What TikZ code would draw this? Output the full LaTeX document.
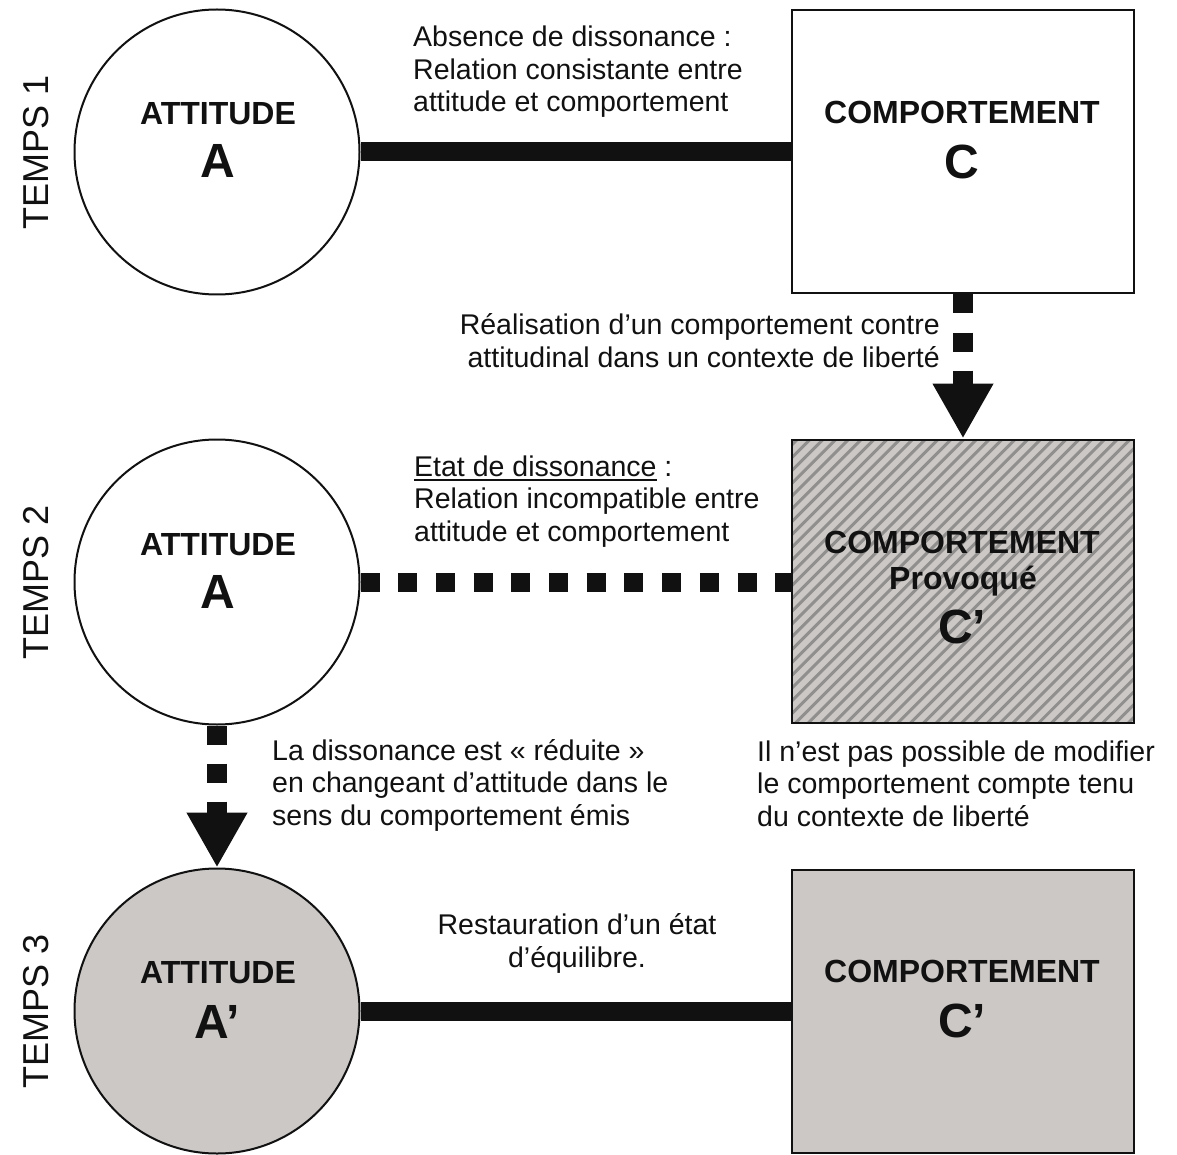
\documentclass[tikz,border=0pt]{standalone}
\usepackage{fontspec}
\setmainfont{Liberation Sans}
\usetikzlibrary{arrows.meta}
\definecolor{ink}{RGB}{17,17,17}
\definecolor{shadegrey}{RGB}{203,200,198}
\definecolor{hatchgrey}{RGB}{145,143,142}
\newcommand\myul[1]{\setbox0\hbox{#1}\rlap{\rule[-4.5pt]{\wd0}{1.8pt}}\box0\relax}
\begin{document}
\begin{tikzpicture}[x=1pt,y=-1pt,
 shapeborder/.style={draw=ink, line width=2pt},
 att/.style={shapeborder, circle, minimum size=285pt, inner sep=0pt},
 comp/.style={shapeborder, rectangle, minimum width=342pt, minimum height=283pt, inner sep=0pt},
 bigword/.style={font=\fontsize{32}{36}\selectfont\bfseries, anchor=base, inner sep=0pt, text=ink},
 bigletter/.style={font=\fontsize{48}{56}\selectfont\bfseries, anchor=base, inner sep=0pt, text=ink},
 note/.style={font=\fontsize{28.5}{32.5}\selectfont, inner sep=0pt, text=ink},
 temps/.style={font=\fontsize{36}{40}\selectfont, rotate=90, inner sep=0pt, text=ink},
 solidlink/.style={draw=ink, line width=19pt},
 dotlink/.style={draw=ink, line width=19pt, dash pattern=on 19pt off 18.7pt},
 dotarrow/.style={draw=ink, line width=20pt, dash pattern=on 19pt off 19pt, -{Triangle[length=55pt,width=57pt]}},
]
\path[fill=white, use as bounding box] (0,0) rectangle (1177,1155);

% shapes
\node[att] (a1) at (217,152) {};
\node[att] (a2) at (217,582) {};
\node[att, fill=shadegrey] (a3) at (217,1011) {};
\node[comp] (c1) at (963,152) {};
\node[comp, fill=shadegrey, path picture={
  \foreach \k in {0,...,52} \draw[hatchgrey, line width=3pt] (-480+\k*12.8,160) -- ++(420,-420);
}] (c2) at (963,581) {};
\node[comp, fill=shadegrey] (c3) at (963,1011) {};

% labels inside shapes
\node[bigword] (a1w) at (218,125) {ATTITUDE};
\node[bigletter] (a1l) at (218,178) {A};
\node[bigword] (a2w) at (218,555) {ATTITUDE};
\node[bigletter] (a2l) at (218,608) {A};
\node[bigword] (a3w) at (218,983) {ATTITUDE};
\node[bigletter] (a3l) at (217,1038) {A’};
\node[bigword] (c1w) at (962,124) {COMPORTEMENT};
\node[bigletter] (c1l) at (962,179) {C};
\node[bigword] (c2w) at (962,553) {COMPORTEMENT};
\node[bigword] (c2p) at (963,589) {Provoqué};
\node[bigletter] (c2l) at (962,643) {C’};
\node[bigword] (c3w) at (962,982) {COMPORTEMENT};
\node[bigletter] (c3l) at (962,1037) {C’};

% time labels
\node[temps] (t1) at (36,152) {TEMPS 1};
\node[temps] (t2) at (36,582) {TEMPS 2};
\node[temps] (t3) at (36,1011) {TEMPS 3};

% notes (base anchor = baseline of the last line)
\node[note, anchor=base west, align=left] (n1) at (413,112)
  {Absence de dissonance :\\Relation consistante entre\\attitude et comportement};
\node[note, anchor=base east, align=right] (n2) at (940,367)
  {Réalisation d’un comportement contre\\attitudinal dans un contexte de liberté};
\node[note, anchor=base west, align=left] (n3) at (414,541)
  {\myul{Etat de dissonance} :\\Relation incompatible entre\\attitude et comportement};
\node[note, anchor=base west, align=left] (n4) at (272,825)
  {La dissonance est « réduite »\\en changeant d’attitude dans le\\sens du comportement émis};
\node[note, anchor=base west, align=left] (n5) at (757,826)
  {Il n’est pas possible de modifier\\le comportement compte tenu\\du contexte de liberté};
\node[note, anchor=base, align=center] (n6) at (577,967)
  {Restauration d’un état\\d’équilibre.};

% connectors
\draw[solidlink] (a1.east) -- (a1.east -| c1.west);
\draw[dotlink] (a2.east) -- (a2.east -| c2.west);
\draw[solidlink] (a3.east) -- (a3.east -| c3.west);
\draw[dotarrow] (c1.south) -- (c2.north);
\draw[dotarrow] (a2.south) -- (a3.north);
\end{tikzpicture}
\end{document}
